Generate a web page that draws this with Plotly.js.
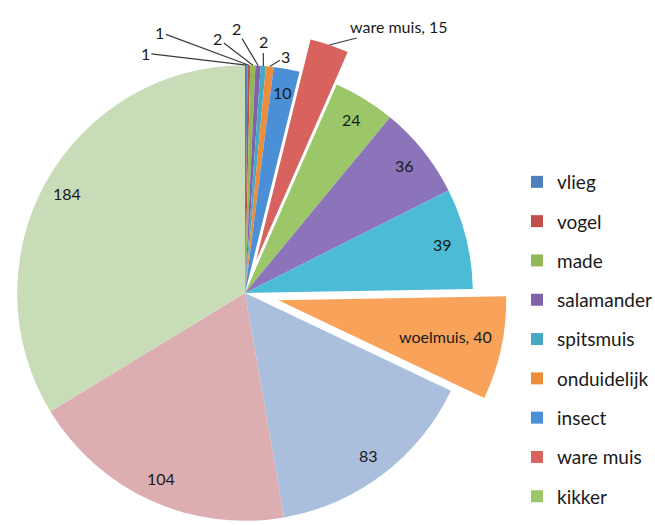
<!DOCTYPE html>
<html>
<head>
<meta charset="utf-8">
<script src="https://cdn.plot.ly/plotly-3.0.1.min.js"></script>
<style>
html,body{margin:0;padding:0;overflow:hidden;width:655px;height:525px;background:#fff}
#chart{position:absolute;left:-30px;top:0;width:700px;height:580px}
</style>
</head>
<body>
<div id="chart"></div>
<script>
// ---- data ----
const values = [1, 1, 2, 2, 2, 3, 10, 15, 24, 36, 39, 40, 83, 104, 184];
const namedSlices = [null, null, null, null, null, null, null, 'ware muis', null, null, null, 'woelmuis', null, null, null];
const legendNames = ['vlieg', 'vogel', 'made', 'salamander', 'spitsmuis', 'onduidelijk', 'insect', 'ware muis', 'kikker'];

// ---- style ----
const colors = ['#4f7fbf', '#c0504d', '#93b957', '#7f63a8', '#45a8c4', '#ec8d3e',
                '#4b8fd6', '#d8625e', '#9cc768', '#8b74ba', '#4bbbd6', '#f8a25a',
                '#aabfdd', '#ddaeb1', '#c8dcb8'];
const pulls = [0, 0, 0, 0, 0, 0, 0, 0.15, 0, 0, 0, 0.15, 0, 0, 0];
const outsideOffsets = {0: [-101, -12], 1: [-89, -33], 2: [-35, -27], 3: [-22, -37], 4: [0, -24], 5: [16, -10], 7: [70, -18]};
const insideRadius = {11: 0.75};
const defaultInsideRadius = 0.895;
const FONT = 'Lato, "Liberation Sans", sans-serif';
const TXT = '#1a1a1a';

const W = 700, H = 580;
const dom = {x: [13 / W, 537 / W], y: [1 - 555 / H, 1 - 31 / H]};

// geometry mirrors Plotly's own pie sizing
const maxPull = Math.max(...pulls);
const boxW = (dom.x[1] - dom.x[0]) * W, boxH = (dom.y[1] - dom.y[0]) * H;
const r = Math.min(boxW, boxH) / (2 + 2 * maxPull);
const cx = (dom.x[0] + dom.x[1]) / 2 * W;
const cy = (1 - (dom.y[0] + dom.y[1]) / 2) * H;
const total = values.reduce((a, b) => a + b, 0);

const annotations = [];
let cum = 0;
values.forEach((v, i) => {
  const a = (cum + v / 2) / total * 2 * Math.PI;
  cum += v;
  const s = Math.sin(a), c = -Math.cos(a);
  const pcx = cx + pulls[i] * r * s, pcy = cy + pulls[i] * r * c;
  const txt = namedSlices[i] ? namedSlices[i] + ', ' + v : String(v);
  if (outsideOffsets[i]) {
    const ex = pcx + r * s, ey = pcy + r * c;
    annotations.push({
      x: ex / W, y: 1 - ey / H, xref: 'paper', yref: 'paper',
      text: txt, showarrow: true, arrowhead: 0, arrowwidth: 1.2, arrowcolor: '#3a3a3a',
      ax: outsideOffsets[i][0], ay: outsideOffsets[i][1], standoff: 0,
      font: {family: FONT, size: 16, color: TXT}
    });
  } else {
    const f = insideRadius[i] || defaultInsideRadius;
    const lx = pcx + f * r * s, ly = pcy + f * r * c;
    annotations.push({
      x: lx / W, y: 1 - ly / H, xref: 'paper', yref: 'paper',
      text: txt, showarrow: false, xanchor: 'center', yanchor: 'middle',
      font: {family: FONT, size: 16, color: TXT}
    });
  }
});

const traces = [{
  type: 'pie',
  values: values,
  sort: false,
  direction: 'clockwise',
  rotation: 0,
  pull: pulls,
  marker: {colors: colors, line: {width: 0}},
  textinfo: 'none',
  hoverinfo: 'skip',
  showlegend: false,
  domain: dom
}];

legendNames.forEach((n, i) => {
  traces.push({
    type: 'scatter', mode: 'markers', x: [null], y: [null], name: n,
    legendgroup: 'g' + i,
    marker: {symbol: 'square', size: 12, color: colors[i]},
    hoverinfo: 'skip'
  });
});

const layout = {
  width: W, height: H,
  margin: {l: 0, r: 0, t: 0, b: 0},
  paper_bgcolor: '#fff', plot_bgcolor: '#fff',
  xaxis: {visible: false}, yaxis: {visible: false},
  showlegend: true,
  legend: {
    x: (517 + 30) / W, y: 1 - 163 / H, xanchor: 'left', yanchor: 'top',
    font: {family: FONT, size: 19, color: TXT},
    tracegroupgap: 11.6, bgcolor: 'rgba(0,0,0,0)'
  },
  annotations: annotations
};

Plotly.newPlot('chart', traces, layout, {staticPlot: true, displayModeBar: false});
</script>
</body>
</html>
